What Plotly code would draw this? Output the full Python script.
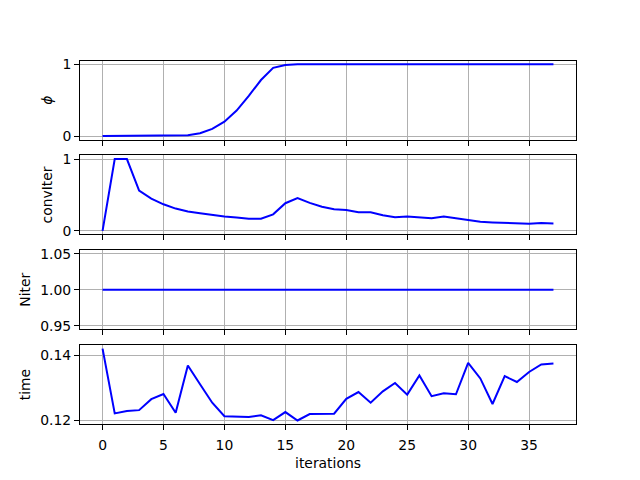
import plotly.graph_objects as go

iterations = list(range(38))
phi = [0, 0, 0, 0, 0, 0, 0, 0.01, 0.04, 0.10, 0.20, 0.355, 0.56, 0.78, 0.95, 0.99, 1.0,
       1, 1, 1, 1, 1, 1, 1, 1, 1, 1, 1, 1, 1, 1, 1, 1, 1, 1, 1, 1, 1]
conv_iter = [0, 1.0, 1.0, 0.56, 0.45, 0.37, 0.31, 0.27, 0.245, 0.22, 0.20, 0.185, 0.167, 0.17,
             0.23, 0.385, 0.457, 0.39, 0.335, 0.30, 0.29, 0.26, 0.26, 0.217, 0.19, 0.20, 0.185,
             0.176, 0.20, 0.176, 0.158, 0.127, 0.118, 0.109, 0.109, 0.10, 0.109, 0.104]
niter = [1] * 38
time_vals = [0.1421, 0.1221, 0.1228, 0.1231, 0.1265, 0.1281, 0.1223, 0.1369, 0.1311, 0.1254,
             0.1212, 0.1210, 0.1210, 0.1215, 0.1200, 0.1225, 0.1199, 0.1219, 0.1220, 0.1220,
             0.1266, 0.1287, 0.1254, 0.1289, 0.1315, 0.1279, 0.1338, 0.1274, 0.1283, 0.1280,
             0.1377, 0.1329, 0.1250, 0.1336, 0.1318, 0.1349, 0.1372, 0.1375]

series = [
    (phi, "<i>ϕ</i>", [0, 1], ["0", "1"], None),
    (conv_iter, "convIter", [0, 1], ["0", "1"], None),
    (niter, "Niter", [0.95, 1.0, 1.05], ["0.95", "1.00", "1.05"], [0.945, 1.055]),
    (time_vals, "time", [0.12, 0.14], ["0.12", "0.14"], None),
]

FONT = "DejaVu Sans"
fs = 13.9
h = 80.35 / 480
gap = 16.07 / 480
bottom = 0.11
domains = []
for k in range(4):
    lo = bottom + (3 - k) * (h + gap)
    domains.append([lo, lo + h])

xr = [-0.05 * 37, 37 + 0.05 * 37]

fig = go.Figure()
layout = dict(
    width=640, height=480, margin=dict(l=0, r=0, t=0, b=0),
    paper_bgcolor="white", plot_bgcolor="white", showlegend=False,
    font=dict(family=FONT, size=fs, color="black"),
)
axis_common = dict(
    showline=True, mirror=True, linecolor="black", linewidth=1,
    ticks="outside", ticklen=5, tickwidth=1, tickcolor="black",
    showgrid=True, gridcolor="#b0b0b0", gridwidth=1, zeroline=False,
    tickfont=dict(family=FONT, size=fs, color="black"),
)
for k, (vals, label, tv, tt, yr) in enumerate(series):
    idx = "" if k == 0 else str(k + 1)
    fig.add_trace(go.Scatter(x=iterations, y=vals, mode="lines",
                             line=dict(color="blue", width=2),
                             xaxis="x" + idx, yaxis="y" + idx))
    if yr is None:
        lo, hi = min(vals), max(vals)
        m = 0.05 * (hi - lo)
        yr = [lo - m, hi + m]
    xa = dict(axis_common, domain=[0.125, 0.9], range=xr, anchor="y" + idx,
              tickvals=[0, 5, 10, 15, 20, 25, 30, 35],
              showticklabels=(k == 3))
    if k == 3:
        xa["ticklabelstandoff"] = 3
        xa["title"] = dict(text="iterations", font=dict(family=FONT, size=fs), standoff=6)
    else:
        xa["matches"] = "x4"
    ya = dict(axis_common, domain=domains[k], range=yr, anchor="x" + idx,
              tickvals=tv, ticktext=tt,
              title=dict(text=label, font=dict(family=FONT, size=fs), standoff=6))
    layout["xaxis" + idx] = xa
    layout["yaxis" + idx] = ya

fig.update_layout(**layout)
fig.write_html("out.html")
